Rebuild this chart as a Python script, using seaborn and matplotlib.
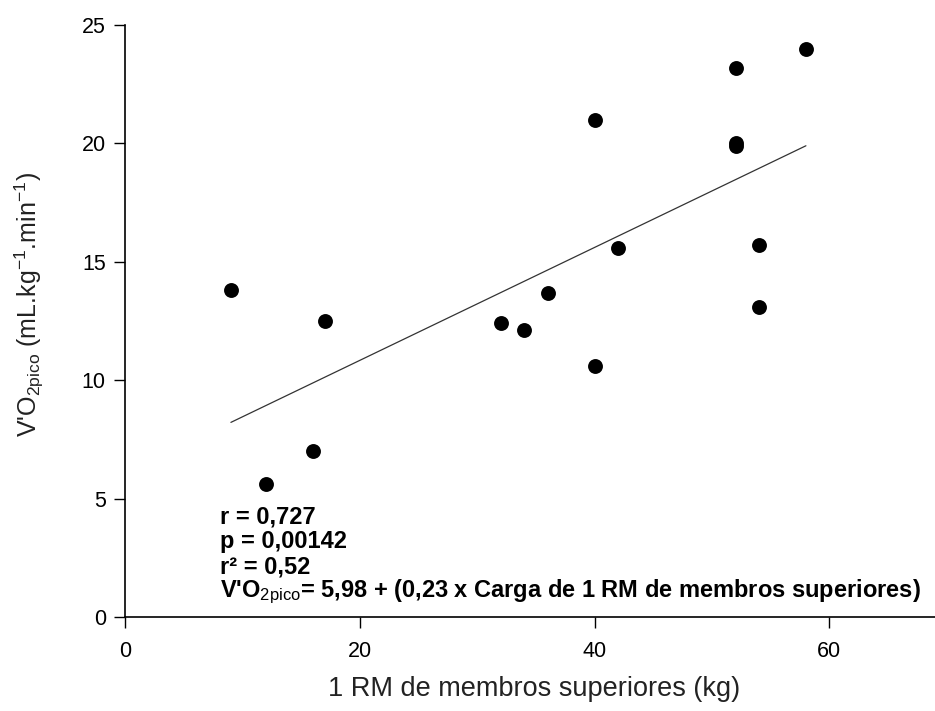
import matplotlib
matplotlib.use("Agg")
import matplotlib.pyplot as plt
import seaborn as sns
import pandas as pd

# Data
rm_kg = [9, 12, 16, 17, 32, 34, 36, 40, 40, 42, 52, 52, 52, 54, 54, 58]
vo2_pico = [13.8, 5.6, 7.0, 12.5, 12.4, 12.1, 13.7, 21.0, 10.6, 15.6, 23.2, 20.0, 19.9, 15.7, 13.1, 24.0]
x_ticks = [0, 20, 40, 60]
y_ticks = [0, 5, 10, 15, 20, 25]
stats_lines = ["r = 0,727", "p = 0,00142", "r² = 0,52",
               r"V'O$_{\mathrm{2pico}}$= 5,98 + (0,23 x Carga de 1 RM de membros superiores)"]

df = pd.DataFrame({"rm": rm_kg, "vo2": vo2_pico})

sns.set_style("ticks")
plt.rcParams["font.family"] = ["Liberation Sans", "DejaVu Sans"]
plt.rcParams["mathtext.fontset"] = "custom"
plt.rcParams["mathtext.rm"] = "Liberation Sans"
plt.rcParams["mathtext.it"] = "Liberation Sans:italic"
plt.rcParams["mathtext.bf"] = "Liberation Sans:bold"
plt.rcParams["text.color"] = "black"
plt.rcParams["axes.labelcolor"] = "black"

fig = plt.figure(figsize=(9.35, 7.11), dpi=100)
ax = fig.add_axes([0.134, 0.132, 0.866, 0.833])

sns.regplot(data=df, x="rm", y="vo2", scatter=False, ci=None, truncate=True,
            line_kws={"color": "#333333", "linewidth": 0.9}, ax=ax)
sns.scatterplot(data=df, x="rm", y="vo2", color="black", s=115, edgecolor="black",
                linewidth=0, ax=ax, zorder=3)

ax.set_xlim(0, 69)
ax.set_ylim(0, 25)
ax.set_xticks(x_ticks)
ax.set_yticks(y_ticks)
ax.tick_params(axis="both", direction="out", length=8, width=1, labelsize=15.5,
               colors="black", pad=6)
ax.tick_params(axis="x", pad=9)
for s in ["top", "right"]:
    ax.spines[s].set_visible(False)
for s in ["left", "bottom"]:
    ax.spines[s].set_color("black")
    ax.spines[s].set_linewidth(1.2)

ax.set_xlabel("1 RM de membros superiores (kg)", fontsize=19.5, color="#222222")
ax.set_ylabel(r"V'O$_{\mathrm{2pico}}$ (mL.kg$^{\mathrm{-1}}$.min$^{\mathrm{-1}}$)",
              fontsize=18, color="#222222")
ax.xaxis.set_label_coords(0.505, -0.100)
ax.yaxis.set_label_coords(-0.098, 0.527)

ys = [0.169, 0.127, 0.085, 0.042]
for txt, yy in zip(stats_lines, ys):
    ax.text(0.117, yy, txt, transform=ax.transAxes, fontsize=17,
            fontweight="bold", va="center", ha="left", color="black")

fig.savefig("out.png", dpi=100)
